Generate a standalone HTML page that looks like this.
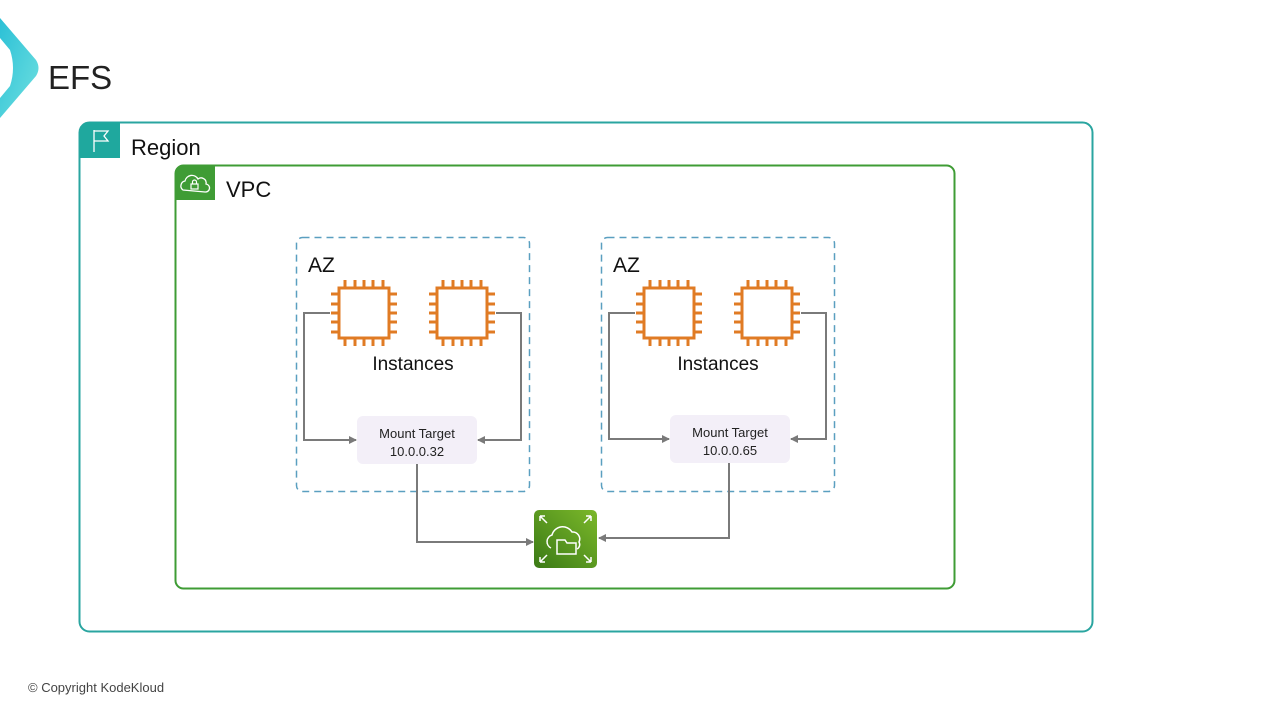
<!DOCTYPE html>
<html><head><meta charset="utf-8"><style>
body{margin:0;width:1280px;height:720px;background:#fff;overflow:hidden;font-family:"Liberation Sans",sans-serif;}
</style></head><body>
<svg width="1280" height="720" viewBox="0 0 1280 720" xmlns="http://www.w3.org/2000/svg" font-family="Liberation Sans, DejaVu Sans, sans-serif">
<defs>
<linearGradient id="g1" x1="0" y1="0" x2="1" y2="1"><stop offset="0" stop-color="#2bc0d6"/><stop offset="1" stop-color="#6fe0e0"/></linearGradient>
<linearGradient id="g2" x1="0" y1="1" x2="1" y2="0"><stop offset="0" stop-color="#3b7a16"/><stop offset="1" stop-color="#7bb82a"/></linearGradient>
<marker id="ar" markerWidth="8" markerHeight="8" refX="7" refY="4" orient="auto" markerUnits="userSpaceOnUse"><path d="M0,0 L8,4 L0,8 z" fill="#7a7a7a"/></marker>
<g id="chip" fill="none" stroke="#e07b24" stroke-width="3">
<rect x="0" y="0" width="50" height="50"/>
<path d="M6,0v-8M16,0v-8M25,0v-8M34,0v-8M44,0v-8M6,50v8M16,50v8M25,50v8M34,50v8M44,50v8M0,6h-8M0,16h-8M0,25h-8M0,34h-8M0,44h-8M50,6h8M50,16h8M50,25h8M50,34h8M50,44h8"/>
</g>
</defs>
<path d="M0,18 L36,60 Q41,68 36,76 L0,118 L0,98 L10,86 Q16,68 10,50 L0,38 z" fill="url(#g1)"/>
<text x="48" y="89" font-size="33" fill="#222">EFS</text>
<rect x="79.5" y="122.5" width="1013" height="509" rx="10" fill="none" stroke="#2aa5a0" stroke-width="2"/>
<path d="M79.5,158 V132 a10,10 0 0 1 10,-10 H120 V158 z" fill="#1fa89e"/>
<path d="M94,152 V130 M94,131 H108 L104,136 L108,141 H94" fill="none" stroke="#fff" stroke-width="1.3"/>
<text x="131" y="155" font-size="22" fill="#111">Region</text>
<rect x="175.5" y="165.5" width="779" height="423" rx="8" fill="none" stroke="#3f9c35" stroke-width="2"/>
<path d="M175.5,200 V173 a8,8 0 0 1 8,-8 H215 V200 z" fill="#3f9c35"/>
<path d="M183,190 a5,5 0 0 1 2,-9 a7,7 0 0 1 13,-2 a5,5 0 0 1 8,5 a4,4 0 0 1 -1,8 z" fill="none" stroke="#fff" stroke-width="1.3"/>
<rect x="191" y="184" width="7" height="5" fill="none" stroke="#fff" stroke-width="1.2"/>
<path d="M192.5,184 v-2 a2,2 0 0 1 4,0 v2" fill="none" stroke="#fff" stroke-width="1.2"/>
<text x="226" y="197" font-size="22" fill="#111">VPC</text>
<rect x="296.5" y="237.5" width="233" height="254" rx="6" fill="none" stroke="#5a9fc0" stroke-width="1.5" stroke-dasharray="7,5"/>
<rect x="601.5" y="237.5" width="233" height="254" rx="6" fill="none" stroke="#5a9fc0" stroke-width="1.5" stroke-dasharray="7,5"/>
<text x="308" y="272" font-size="21" fill="#111">AZ</text>
<text x="613" y="272" font-size="21" fill="#111">AZ</text>
<use href="#chip" x="339" y="288"/><use href="#chip" x="437" y="288"/>
<use href="#chip" x="644" y="288"/><use href="#chip" x="742" y="288"/>
<text x="413" y="370" font-size="19" fill="#111" text-anchor="middle">Instances</text>
<text x="718" y="370" font-size="19" fill="#111" text-anchor="middle">Instances</text>
<rect x="357" y="416" width="120" height="48" rx="6" fill="#f3eff8"/>
<rect x="670" y="415" width="120" height="48" rx="6" fill="#f3eff8"/>
<g font-size="13" fill="#222" text-anchor="middle">
<text x="417" y="438">Mount Target</text><text x="417" y="456">10.0.0.32</text>
<text x="730" y="437">Mount Target</text><text x="730" y="455">10.0.0.65</text>
</g>
<g fill="none" stroke="#7a7a7a" stroke-width="2">
<path d="M330,313 H304 V440 H356" marker-end="url(#ar)"/>
<path d="M496,313 H521 V440 H478" marker-end="url(#ar)"/>
<path d="M635,313 H609 V439 H669" marker-end="url(#ar)"/>
<path d="M801,313 H826 V439 H791" marker-end="url(#ar)"/>
<path d="M417,464 V542 H533" marker-end="url(#ar)"/>
<path d="M729,463 V538 H599" marker-end="url(#ar)"/>
</g>
<rect x="534" y="510" width="63" height="58" rx="5" fill="url(#g2)"/>
<g fill="none" stroke="#fff" stroke-width="1.5">
<path d="M551,548 a7,7 0 0 1 1,-13 a11,11 0 0 1 20,-3 a7,7 0 0 1 7,10 a5,5 0 0 1 -2,7"/>
<path d="M557,554 V540 H565 l2,3 H576 V554 z"/>
<path d="M540,516 l7,7 M540,516 h5 M540,516 v5 M591,516 l-7,7 M591,516 h-5 M591,516 v5 M540,562 l7,-7 M540,562 h5 M540,562 v-5 M591,562 l-7,-7 M591,562 h-5 M591,562 v-5"/>
</g>
<text x="28" y="692" font-size="13" fill="#444">© Copyright KodeKloud</text>
</svg>
</body></html>
